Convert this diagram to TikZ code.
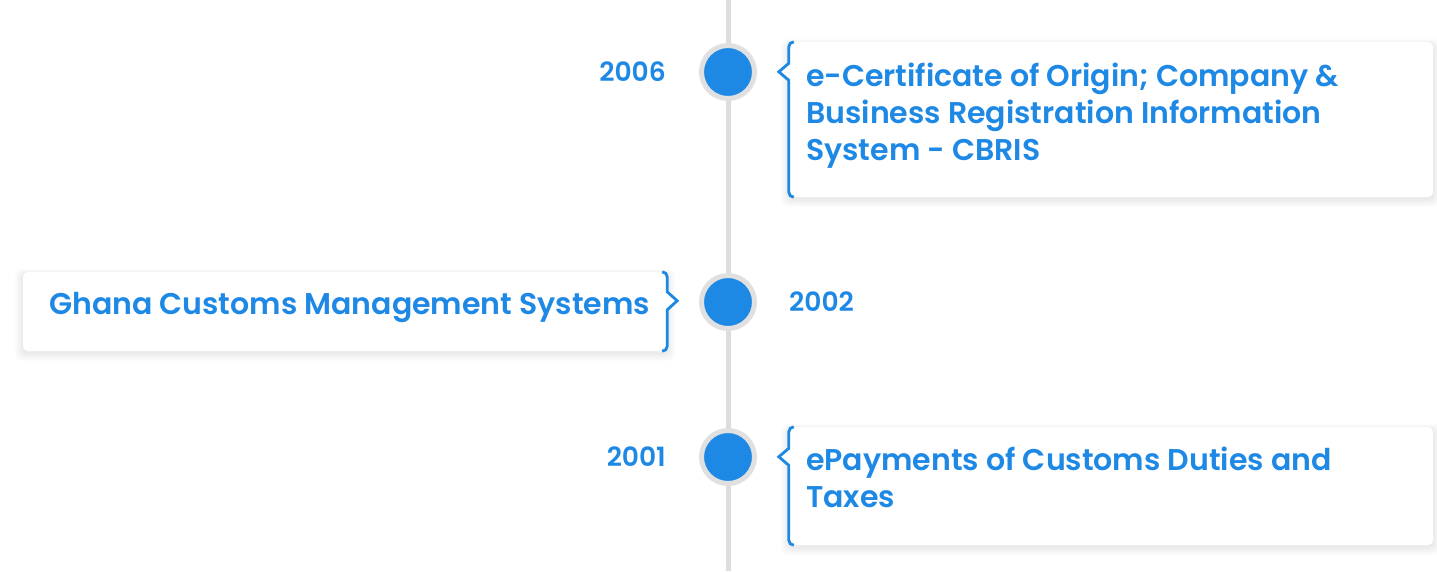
\documentclass[tikz,border=0pt]{standalone}
\usepackage{fontspec}
\newfontfamily\pop{Poppins}[UprightFont={* SemiBold}]
\usetikzlibrary{calc,backgrounds}
\definecolor{tblue}{HTML}{1E88E5}
\definecolor{linegray}{HTML}{DDDDDD}
\definecolor{ringgray}{HTML}{E0E0E0}
\tikzset{
  dot/.style={circle, fill=tblue, draw=ringgray, line width=5pt, minimum size=53pt, inner sep=0pt},
  card/.style={rectangle, fill=white, rounded corners=5pt, inner sep=0pt, minimum width=644pt},
  cardtext/.style={anchor=base west, inner sep=0pt, align=left, text=tblue, font=\pop\fontsize{30}{37}\selectfont},
  year/.style={inner sep=0pt, text=tblue, font=\pop\fontsize{26.5}{30}\selectfont},
  bluebar/.style={draw=tblue, line width=2.8pt, line join=miter},
  tlline/.style={draw=linegray, line width=5pt}
}
\newcommand{\cardshadow}[1]{%
  \foreach \i in {1,...,10}{%
    \fill[black, opacity=0.009, rounded corners=7pt]
      ($(#1.north west)+(-\i*0.8,-\i*0.5+2)$) rectangle ($(#1.south east)+(\i*0.8,\i*0.8+2)$);
  }%
}
\begin{document}
\begin{tikzpicture}[x=1pt,y=-1pt]
\useasboundingbox (0,0) rectangle (1437,571);
\coordinate (top) at (728,0);
\coordinate (bot) at (728,571);
\draw[tlline] (top) -- (bot);

\node[dot] (d1) at (728,72) {};
\node[dot] (d2) at (728,302) {};
\node[dot] (d3) at (728,457) {};

% cards
\node[card, minimum height=155pt] (b1) at (1111,119.5) {};
\node[card, minimum height=79pt] (b2) at (345,311.5) {};
\node[card, minimum height=118pt] (b3) at (1111,486) {};

\begin{scope}[on background layer]
  \fill[white] (0,0) rectangle (1437,571);
  \cardshadow{b1}
  \cardshadow{b2}
  \cardshadow{b3}
\end{scope}

% blue edges with notches
\draw[bluebar, fill=white]
  ($(b1.north west)+(5,0)$) arc[start angle=-90, end angle=-180, radius=5]
  -- ($(b1.north west)+(0,21.5)$) -- ($(b1.north west)+(-10,30)$) -- ($(b1.north west)+(0,38.5)$)
  -- ($(b1.south west)+(0,-5)$) arc[start angle=180, end angle=90, radius=5];
\draw[bluebar, fill=white]
  ($(b2.north east)+(-5,0)$) arc[start angle=-90, end angle=0, radius=5]
  -- ($(b2.north east)+(0,20)$) -- ($(b2.north east)+(10,29)$) -- ($(b2.north east)+(0,38)$)
  -- ($(b2.south east)+(0,-5)$) arc[start angle=0, end angle=90, radius=5];
\draw[bluebar, fill=white]
  ($(b3.north west)+(5,0)$) arc[start angle=-90, end angle=-180, radius=5]
  -- ($(b3.north west)+(0,21.5)$) -- ($(b3.north west)+(-10,30)$) -- ($(b3.north west)+(0,38.5)$)
  -- ($(b3.south west)+(0,-5)$) arc[start angle=180, end angle=90, radius=5];

% texts
\node[cardtext] (t1) at (806,160) {e-Certificate of Origin; Company \&\\Business Registration Information\\System - CBRIS};
\node[cardtext] (t2) at (49,314) {Ghana Customs Management Systems};
\node[cardtext] (t3) at (806,507) {ePayments of Customs Duties and\\Taxes};

% years
\node[year, anchor=base east] (y1) at (666,81) {2006};
\node[year, anchor=base west] (y2) at (789,311) {2002};
\node[year, anchor=base east] (y3) at (666,466) {2001};
\end{tikzpicture}
\end{document}
